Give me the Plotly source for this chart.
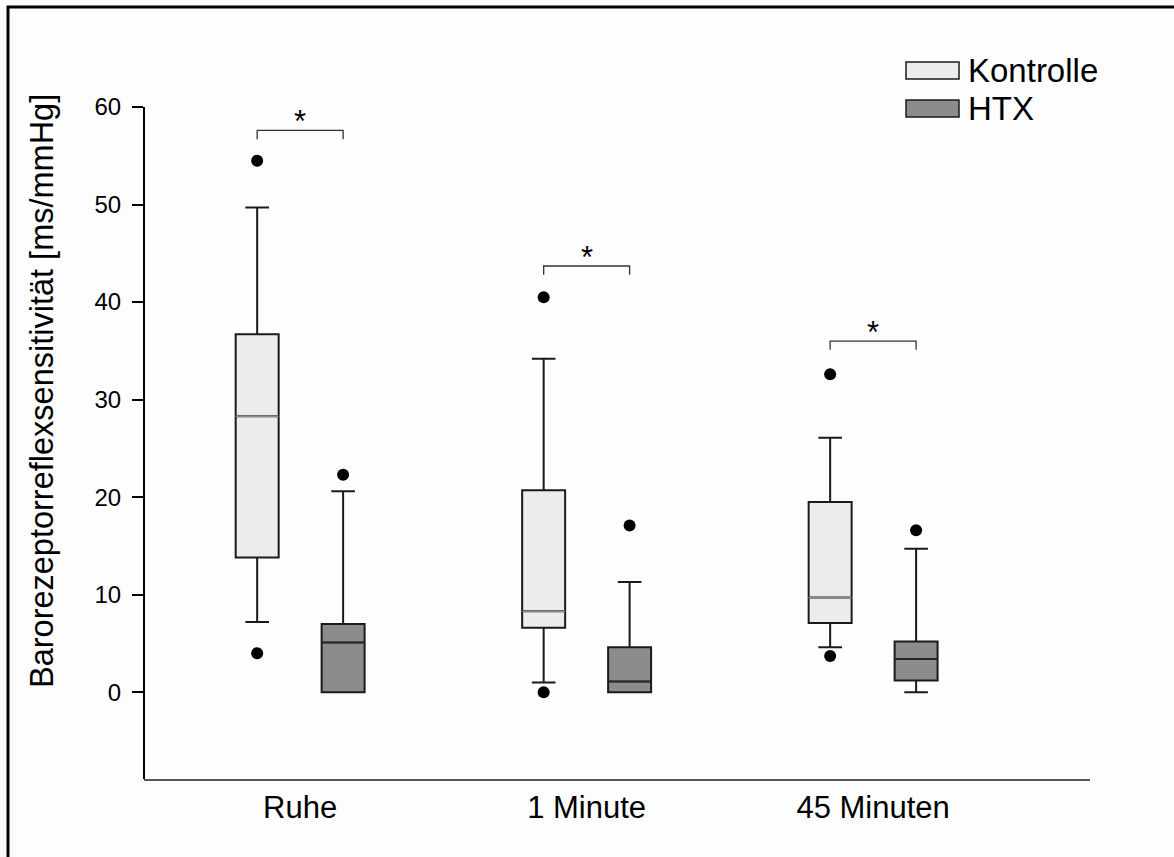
import plotly.graph_objects as go

# Baroreflex sensitivity (ms/mmHg) per measurement phase and group
phases = ["Ruhe", "1 Minute", "45 Minuten"]
groups = ["Kontrolle", "HTX"]

kontrolle_lower = [7.2, 1.0, 4.6]
kontrolle_q1 = [13.8, 6.6, 7.1]
kontrolle_median = [28.3, 8.3, 9.7]
kontrolle_q3 = [36.7, 20.7, 19.5]
kontrolle_upper = [49.7, 34.2, 26.1]
kontrolle_outliers = [[54.5, 4.0], [40.5, 0.0], [32.6, 3.7]]

htx_lower = [0.0, 0.0, 0.0]
htx_q1 = [0.0, 0.0, 1.2]
htx_median = [5.1, 1.1, 3.4]
htx_q3 = [7.0, 4.6, 5.2]
htx_upper = [20.6, 11.3, 14.7]
htx_outliers = [[22.3], [17.1], [16.6]]

# significance brackets (height in ms/mmHg) between the two groups of each phase
bracket_height = [57.6, 43.7, 36.0]
bracket_label = ["*", "*", "*"]

y_ticks = [0, 10, 20, 30, 40, 50, 60]

# ---- layout helpers -------------------------------------------------------
W, H = 1174, 857
L, R, T, B = 144, 84, 107, 78
PW, PH = W - L - R, H - T - B


def px_x(px):
    return (px - L) / PW


def px_y(py):
    return (H - B - py) / PH


OFFSET = 0.15
BOX_W = 0.15
FONT = "Liberation Sans, Arial, sans-serif"

fig = go.Figure()

series = [
    ("Kontrolle", -OFFSET, "#ececec", "#8a8a8a",
     kontrolle_lower, kontrolle_q1, kontrolle_median, kontrolle_q3, kontrolle_upper, kontrolle_outliers),
    ("HTX", OFFSET, "#8c8c8c", "#2a2a2a",
     htx_lower, htx_q1, htx_median, htx_q3, htx_upper, htx_outliers),
]

for name, off, fill, med_col, lo, q1, med, q3, up, outl in series:
    xs = [i + off for i in range(len(phases))]
    fig.add_trace(go.Box(
        x=xs, q1=q1, median=med, q3=q3, lowerfence=lo, upperfence=up,
        width=BOX_W, fillcolor=fill, whiskerwidth=0.55,
        line=dict(color="#1a1a1a", width=2),
        name=name, showlegend=False, hoverinfo="skip",
    ))
    # median line drawn on top of each box
    for x, m in zip(xs, med):
        fig.add_trace(go.Scatter(
            x=[x - BOX_W / 2, x + BOX_W / 2], y=[m, m], mode="lines",
            line=dict(color=med_col, width=1.6), showlegend=False, hoverinfo="skip",
        ))
    # outlying values
    ox, oy = [], []
    for x, pts in zip(xs, outl):
        for p in pts:
            ox.append(x)
            oy.append(p)
    fig.add_trace(go.Scatter(
        x=ox, y=oy, mode="markers",
        marker=dict(color="black", size=12, line=dict(width=0)),
        showlegend=False, hoverinfo="skip",
    ))

# significance brackets
for i, (h, lab) in enumerate(zip(bracket_height, bracket_label)):
    x0, x1 = i - OFFSET, i + OFFSET
    fig.add_trace(go.Scatter(
        x=[x0, x0, x1, x1], y=[h - 0.9, h, h, h - 0.9], mode="lines",
        line=dict(color="#333333", width=1.3), showlegend=False, hoverinfo="skip",
    ))
    fig.add_annotation(x=i, y=h, text=lab, showarrow=False, yanchor="bottom",
                       yshift=-11, font=dict(family=FONT, size=31, color="black"))

# legend swatches and labels
for (label, fill), (y0, y1) in zip([("Kontrolle", "#ececec"), ("HTX", "#8c8c8c")],
                                   [(62, 79), (100, 117)]):
    fig.add_shape(type="rect", xref="paper", yref="paper",
                  x0=px_x(906), x1=px_x(959), y0=px_y(y1), y1=px_y(y0),
                  fillcolor=fill, line=dict(color="#1a1a1a", width=1.5))
    fig.add_annotation(xref="paper", yref="paper", x=px_x(966), y=px_y((y0 + y1) / 2),
                       text=label, showarrow=False, xanchor="left", yanchor="middle",
                       font=dict(family=FONT, size=33, color="black"))

# y-axis title
fig.add_annotation(xref="paper", yref="paper", x=px_x(42), y=px_y(391),
                   text="Barorezeptorreflexsensitivität [ms/mmHg]", textangle=-90,
                   showarrow=False, xanchor="center", yanchor="middle",
                   font=dict(family=FONT, size=32.5, color="black"))

# outer frame
fig.add_shape(type="rect", xref="paper", yref="paper",
              x0=px_x(8), x1=px_x(1200), y0=px_y(880), y1=px_y(7),
              line=dict(color="black", width=3), fillcolor="rgba(0,0,0,0)", layer="below")

fig.update_layout(
    width=W, height=H,
    margin=dict(l=L, r=R, t=T, b=B, pad=0),
    paper_bgcolor="#fdfdfd", plot_bgcolor="#fdfdfd",
    font=dict(family=FONT, color="black"),
    showlegend=False,
    xaxis=dict(
        range=[-0.545, 2.757], tickvals=[0, 1, 2], ticktext=phases,
        showgrid=False, zeroline=False, showline=True, linecolor="#555555", linewidth=2,
        ticks="", tickfont=dict(family=FONT, size=31, color="black"),
    ),
    yaxis=dict(
        range=[-8.9, 60], tickvals=y_ticks, ticktext=[str(v) for v in y_ticks],
        showgrid=False, zeroline=False, showline=False,
        ticks="outside", ticklen=11, tickwidth=1.5, tickcolor="black",
        ticklabelstandoff=6,
        tickfont=dict(family=FONT, size=24, color="black"),
    ),
)

# y-axis spine running from the bottom of the frame up to the 60 tick
fig.add_shape(type="line", xref="paper", yref="y", x0=0, x1=0, y0=-8.9, y1=60,
              line=dict(color="black", width=2))

fig.write_html("out.html")
